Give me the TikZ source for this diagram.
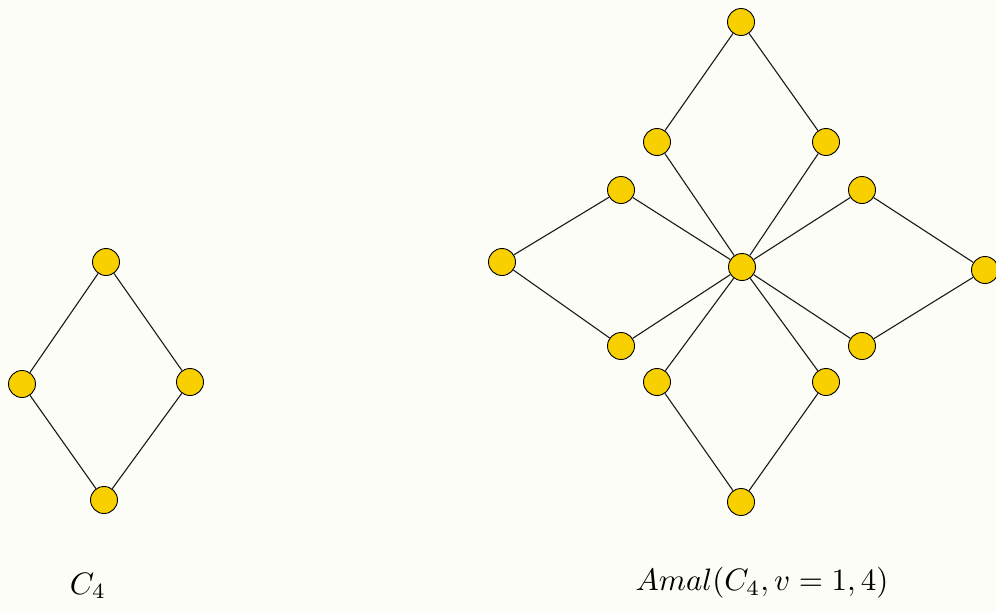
\documentclass[tikz,border=0pt]{standalone}
\begin{document}
\begin{tikzpicture}[x=1pt,y=-1pt,
  vtx/.style={circle,draw=black,line width=0.9pt,fill=vgold,minimum size=27pt,inner sep=0pt},
  edge/.style={line width=1.1pt,draw=black!90},
  lbl/.style={scale=3.1}]
\definecolor{vgold}{HTML}{F8D000}
\definecolor{bgc}{HTML}{FDFDF7}
\fill[bgc] (0,0) rectangle (996,611);
\useasboundingbox (0,0) rectangle (996,611);
% C4
\node[vtx] (a1) at (106,262) {};
\node[vtx] (a2) at (22,384) {};
\node[vtx] (a3) at (190,382) {};
\node[vtx] (a4) at (104,500) {};
% Amal
\node[vtx] (c) at (742,267) {};
\node[vtx] (t0) at (741,22) {};
\node[vtx] (t1) at (657,142) {};
\node[vtx] (t2) at (826,142) {};
\node[vtx] (l1) at (621,190) {};
\node[vtx] (l0) at (502,262) {};
\node[vtx] (l2) at (621,346) {};
\node[vtx] (r1) at (862,190) {};
\node[vtx] (r0) at (985,270) {};
\node[vtx] (r2) at (862,346) {};
\node[vtx] (b1) at (657,382) {};
\node[vtx] (b2) at (826,382) {};
\node[vtx] (b0) at (741,502) {};
\draw[edge] (a1)--(a2) (a2)--(a4) (a4)--(a3) (a3)--(a1);
\draw[edge] (c)--(t1) (t1)--(t0) (t0)--(t2) (t2)--(c);
\draw[edge] (c)--(l1) (l1)--(l0) (l0)--(l2) (l2)--(c);
\draw[edge] (c)--(r1) (r1)--(r0) (r0)--(r2) (r2)--(c);
\draw[edge] (c)--(b1) (b1)--(b0) (b0)--(b2) (b2)--(c);
\node[lbl] (lab1) at (88,586) {$C_4$};
\node[lbl] (lab2) at (762,583) {$Amal(C_4, v=1,4)$};
\end{tikzpicture}
\end{document}
